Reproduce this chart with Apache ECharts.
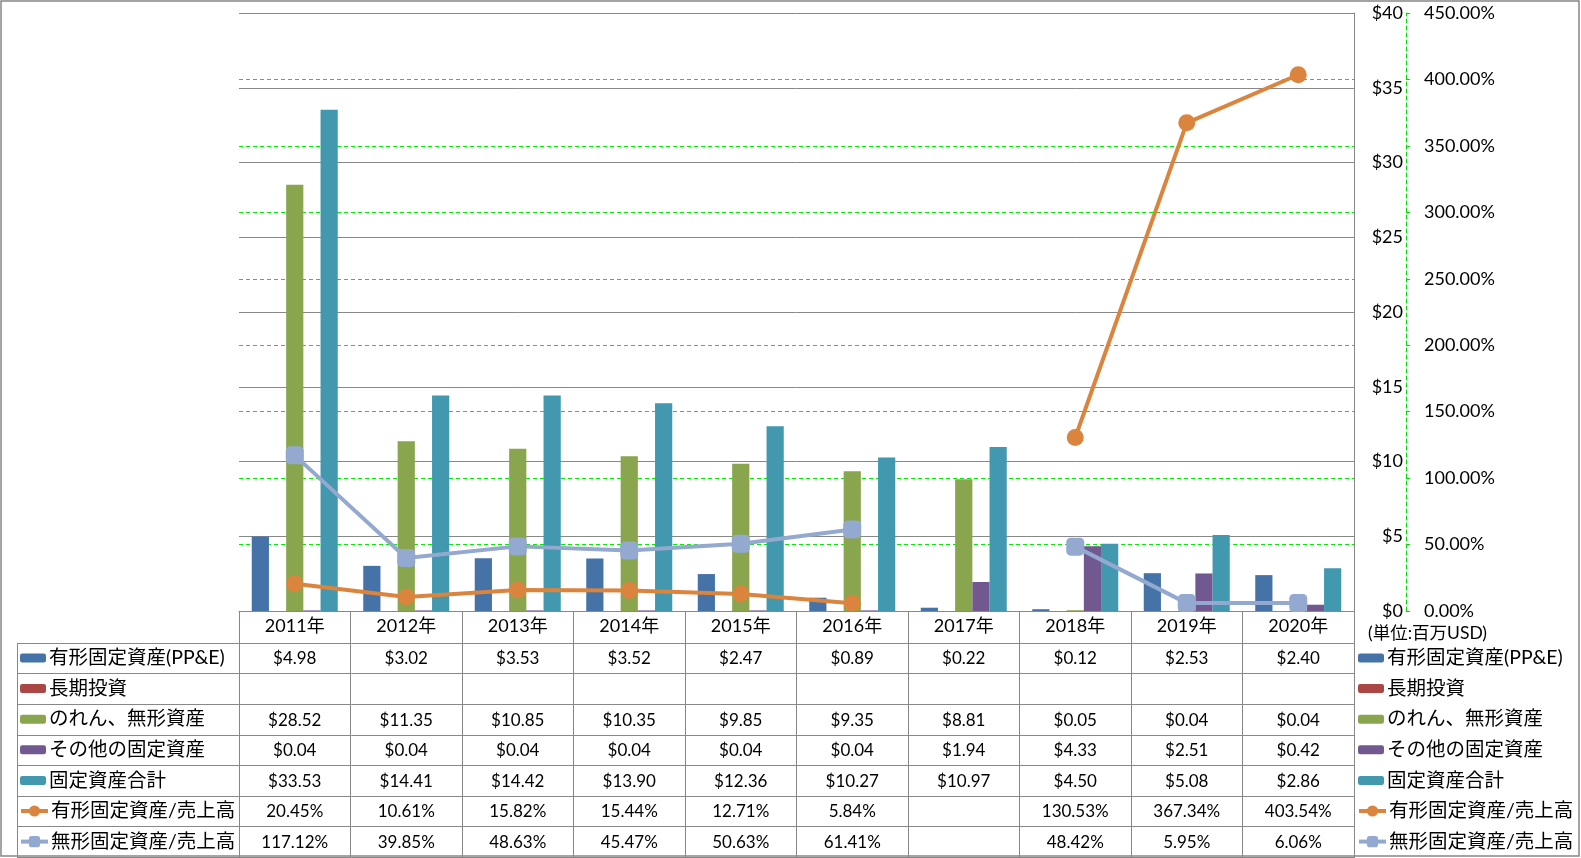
<!DOCTYPE html>
<html><head><meta charset="utf-8">
<script src="https://cdn.jsdelivr.net/npm/echarts@6/dist/echarts.min.js"></script>
<style>html,body{margin:0;padding:0;background:#fff}#c{width:1581px;height:858px}</style>
</head><body><div id="c"></div>
<script>
const categories = ['2011年','2012年','2013年','2014年','2015年','2016年','2017年','2018年','2019年','2020年'];
const ppe = [4.98, 3.02, 3.53, 3.52, 2.47, 0.89, 0.22, 0.12, 2.53, 2.40];
const longInv = [null, null, null, null, null, null, null, null, null, null];
const goodwill = [28.52, 11.35, 10.85, 10.35, 9.85, 9.35, 8.81, 0.05, 0.04, 0.04];
const otherFixed = [0.04, 0.04, 0.04, 0.04, 0.04, 0.04, 1.94, 4.33, 2.51, 0.42];
const totalFixed = [33.53, 14.41, 14.42, 13.90, 12.36, 10.27, 10.97, 4.50, 5.08, 2.86];
const ppeRatio = [20.45, 10.61, 15.82, 15.44, 12.71, 5.84, null, 130.53, 367.34, 403.54];
const intangRatio = [117.12, 39.85, 48.63, 45.47, 50.63, 61.41, null, 48.42, 5.95, 6.06];
const names = ['有形固定資産(PP&E)','長期投資','のれん、無形資産','その他の固定資産','固定資産合計','有形固定資産/売上高','無形固定資産/売上高'];
const unitLabel = '(単位:百万USD)';

const FONT = "Lato, 'Noto Sans CJK JP', sans-serif";
const GRAY = '#888888';
const colors = ['#4572A7','#AA4643','#89A54E','#71588F','#4198AF','#DB843D','#93A9CF'];

const gridL = 239, gridR = 1354, gridT = 13, gridB = 611;
const rowTop = 642.7, rowH = 30.6;

const chart = echarts.init(document.getElementById('c'), null, {renderer:'canvas'});

const barSeries = [ppe, longInv, goodwill, otherFixed, totalFixed].map((d, i) => ({
  name: names[i], type: 'bar', data: d, yAxisIndex: 0,
  barWidth: 17.2, barGap: '0%',
  itemStyle: {color: colors[i]}, z: 2
}));
const lineSeries = [ppeRatio, intangRatio].map((d, i) => ({
  name: names[5 + i], type: 'line', data: d, yAxisIndex: 1,
  connectNulls: false,
  symbol: i === 0 ? 'circle' : 'roundRect', symbolSize: i === 0 ? 17 : 18,
  lineStyle: {color: colors[5 + i], width: 4},
  itemStyle: {color: colors[5 + i]}, z: 5
}));

const legendText = {fontFamily: FONT, fontSize: 19.5, color: '#000', lineHeight: 20, padding: [0,0,0,-2]};
function mkLegend(left, barPart) {
  if (barPart) {
    return {orient: 'vertical', padding: 0, itemGap: rowH - 20, itemWidth: 26, itemHeight: 9,
      textStyle: legendText, data: names.slice(0, 5), selectedMode: false,
      left: left, top: rowTop + 5.3};
  }
  return {orient: 'vertical', padding: 0, itemGap: rowH - 20, itemWidth: 27, itemHeight: 14,
    textStyle: legendText, data: names.slice(5), selectedMode: false,
    lineStyle: {width: 4},
    left: left - 1, top: rowTop + 5 * rowH + 5.3};
}

chart.setOption({
  animation: false,
  textStyle: {fontFamily: FONT},
  grid: {left: gridL, right: 1581 - gridR, top: gridT, bottom: 858 - gridB},
  legend: [mkLegend(20, true), mkLegend(20, false), mkLegend(1358, true), mkLegend(1358, false)],
  xAxis: {
    type: 'category', data: categories,
    axisLine: {show: true, lineStyle: {color: GRAY, width: 1}},
    axisTick: {show: true, length: 858 - gridB, lineStyle: {color: GRAY, width: 1}},
    axisLabel: {fontFamily: FONT, fontSize: 18, color: '#000', margin: 6}
  },
  yAxis: [
    {
      type: 'value', position: 'right', min: 0, max: 40, interval: 5, z: 1,
      axisLine: {show: true, lineStyle: {color: GRAY}},
      axisTick: {show: false},
      axisLabel: {fontFamily: FONT, fontSize: 18, color: '#000', align: 'right', margin: 49,
        formatter: v => '$' + v},
      splitLine: {show: true, lineStyle: {color: GRAY, width: 1}}
    },
    {
      type: 'value', position: 'right', offset: 52, min: 0, max: 450, interval: 50, z: 0,
      axisLine: {show: true, lineStyle: {color: '#00DD00', type: [4, 3], width: 1}},
      axisTick: {show: true, length: 4, lineStyle: {color: '#00DD00'}},
      axisLabel: {fontFamily: FONT, fontSize: 18, color: '#000', margin: 18,
        formatter: v => v.toFixed(2) + '%'},
      splitLine: {show: true, lineStyle: {color: '#00EE00', type: [4, 3], width: 1}}
    }
  ],
  series: barSeries.concat(lineSeries)
});

// data table built from arrays
const rowsData = [ppe, longInv, goodwill, otherFixed, totalFixed, ppeRatio, intangRatio];
const fmt = (v, i) => v == null ? '' : (i < 5 ? '$' + v.toFixed(2) : v.toFixed(2) + '%');
const g = [];
g.push({type: 'rect', shape: {x: 1, y: 1, width: 1578, height: 855}, style: {fill: null, stroke: '#868686', lineWidth: 1.5}, silent: true});
for (let r = 0; r <= 7; r++) {
  const y = Math.round(rowTop + r * rowH) + 0.5;
  g.push({type: 'line', shape: {x1: 17, y1: y, x2: gridR, y2: y}, style: {stroke: GRAY, lineWidth: 1}, silent: true});
}
g.push({type: 'line', shape: {x1: 17.5, y1: Math.round(rowTop) + 0.5, x2: 17.5, y2: 857}, style: {stroke: GRAY, lineWidth: 1}, silent: true});
rowsData.forEach((arr, r) => {
  arr.forEach((v, c) => {
    const x = chart.convertToPixel({xAxisIndex: 0}, c);
    g.push({type: 'text', x: x, y: rowTop + r * rowH + rowH / 2 + 1,
      style: {text: fmt(v, r), font: '17px ' + FONT, fill: '#000', align: 'center', verticalAlign: 'middle'}, silent: true});
  });
});
g.push({type: 'text', x: 1368, y: 633, style: {text: unitLabel, font: '17.5px ' + FONT, fill: '#000', align: 'left', verticalAlign: 'middle'}, silent: true});
chart.setOption({graphic: g});
</script>
</body></html>
